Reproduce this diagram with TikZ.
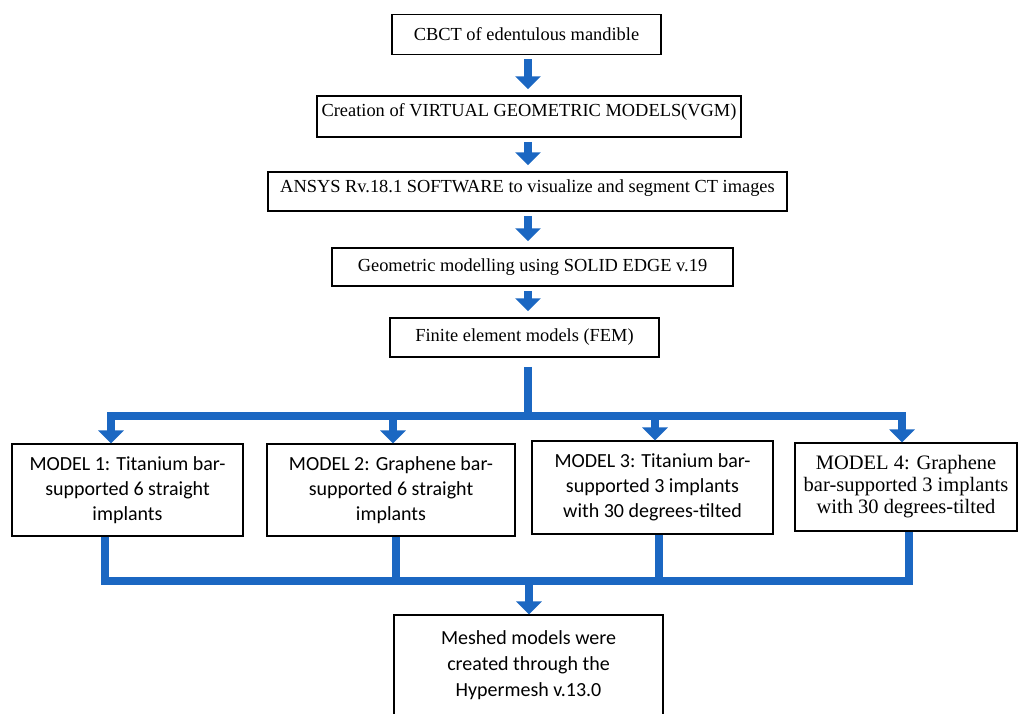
\documentclass[tikz,border=0pt]{standalone}
\usepackage{fontspec}
\setmainfont{Liberation Serif}
\newfontfamily\calib{Carlito}
\newfontfamily\timesf{Liberation Serif}
\usetikzlibrary{arrows.meta,scopes}
\definecolor{flowblue}{RGB}{27,103,194}
\tikzset{
  >= {Triangle[width=25pt,length=13pt]},
  tb/.style={draw, line width=1.5pt, font=\timesf\fontsize{18.4}{22}\selectfont, minimum width=#1, minimum height=40pt, inner sep=0pt},
  mb/.style={draw, line width=1.3pt, font=\calib\fontsize{20}{25}\selectfont, align=center, minimum width=#1, inner sep=0pt},
  sb/.style={draw, line width=1.3pt, font=\timesf\fontsize{20.5}{22}\selectfont, align=center, minimum width=#1, inner sep=0pt},
  fl/.style={draw=flowblue, line width=7.5pt}
}

\begin{document}
\begin{tikzpicture}[x=1pt, y=-1pt]
  \useasboundingbox (0,0) rectangle (1020,713);
  % top column
  \node[tb=269pt] (cbct) at (526.5,34.5) {CBCT of edentulous mandible};
  \node[tb=424pt, minimum height=41pt, text height=12.6pt, text depth=12pt] (vgm) at (529,116.5) {Creation of VIRTUAL GEOMETRIC MODELS(VGM)};
  \node[tb=519pt, minimum height=39pt, text height=12.6pt, text depth=10pt] (ansys) at (527.5,191.5) {ANSYS Rv.18.1 SOFTWARE to visualize and segment CT images};
  \node[tb=401pt, minimum height=38pt] (solid) at (532.5,267) {Geometric modelling using SOLID EDGE v.19};
  \node[tb=269pt, minimum height=39pt] (fem) at (524.5,337.5) {Finite element models (FEM)};
  % models
  \node[mb=231pt, minimum height=92pt] (m1) at (127.5,490) {MODEL 1: Titanium bar-\\supported 6 straight\\implants};
  \node[mb=248pt, minimum height=92pt] (m2) at (391,490) {MODEL 2: Graphene bar-\\supported 6 straight\\implants};
  \node[mb=241pt, minimum height=93pt] (m3) at (652.5,487.5) {MODEL 3: Titanium bar-\\supported 3 implants\\with 30 degrees-tilted};
  \node[sb=222pt, minimum height=88pt] (m4) at (906,487) {\timesf MODEL 4: Graphene\\\timesf bar-supported 3 implants\\\timesf with 30 degrees-tilted};
  \node[mb=269pt, minimum height=100pt, font=\calib\fontsize{20}{26}\selectfont] (mesh) at (528.5,665) {Meshed models were\\created through the\\Hypermesh v.13.0};

  \coordinate (axis) at (528,0);
  \coordinate (split) at (528,416);
  \coordinate (t1) at (111,416);
  \coordinate (t2) at (393,416);
  \coordinate (t3) at (655,416);
  \coordinate (t4) at (902,416);
  \coordinate (b1) at (105,581);
  \coordinate (b2) at (396,581);
  \coordinate (b3) at (659,581);
  \coordinate (b4) at (909,581);
  \coordinate (bm) at (529,581);

  {[fl, ->, shorten <=4pt, shorten >=6pt]
  \draw (axis |- cbct.south) -- (axis |- vgm.north);
  \draw (axis |- vgm.south) -- (axis |- ansys.north);
  \draw (axis |- ansys.south) -- (axis |- solid.north);
  \draw (axis |- solid.south) -- (axis |- fem.north);
  }
  \draw[fl, shorten <=9pt] (axis |- fem.south) -- (split);
  \draw[fl, line cap=rect] (t1) -- (t4);
  {[fl, ->]
  \draw (t1) -- (t1 |- m1.north);
  \draw (t2) -- (t2 |- m2.north);
  \draw (t3) -- (t3 |- m3.north);
  \draw (t4) -- (t4 |- m4.north);
  }
  \draw[fl] (b1 |- m1.south) -- (b1) -- (b4) -- (b4 |- m4.south);
  \draw[fl] (b2 |- m2.south) -- (b2);
  \draw[fl] (b3 |- m3.south) -- (b3);
  \draw[fl, ->] (bm) -- (bm |- mesh.north);

\end{tikzpicture}
\end{document}
